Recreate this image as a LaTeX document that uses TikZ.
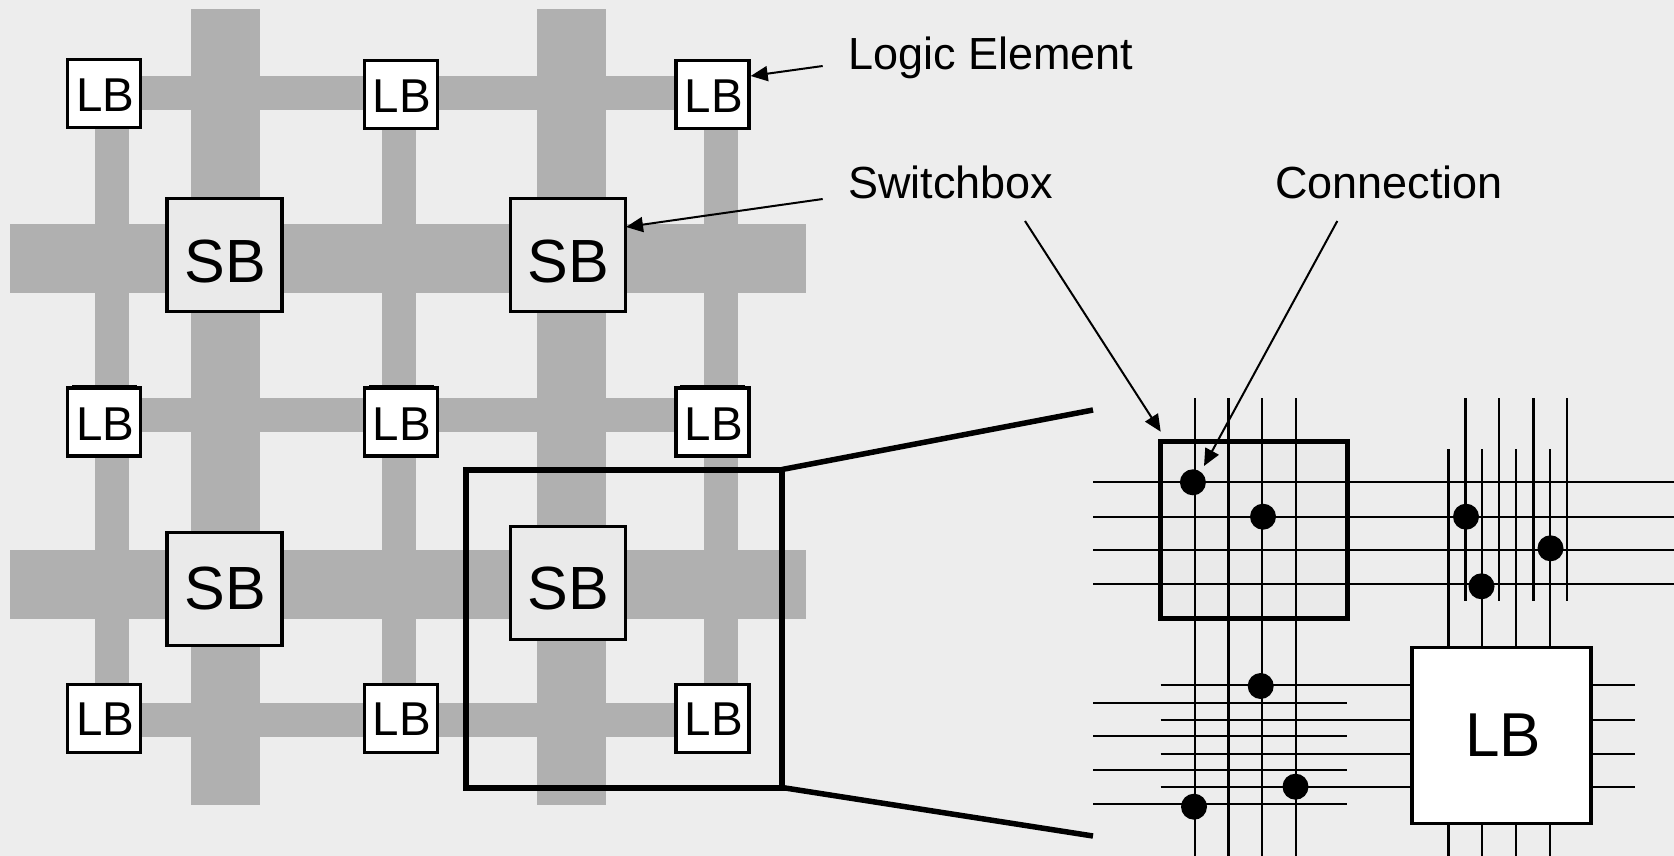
\documentclass[tikz,border=0pt]{standalone}
\usepackage{fontspec}
\setmainfont{Liberation Sans}
\usetikzlibrary{arrows.meta}
\definecolor{bgc}{HTML}{EDEDED}
\definecolor{bar}{HTML}{B0B0B0}
\definecolor{sbfill}{HTML}{EAEAEA}
\tikzset{
  x=1pt,y=-1pt,
  barfill/.style={fill=bar,draw=none},
  lbbox/.style={draw=black,line width=3.5pt,fill=white,rectangle,minimum width=73pt,minimum height=68pt,inner sep=0pt,outer sep=0pt},
  sbbox/.style={draw=black,line width=3.3pt,fill=sbfill,rectangle,minimum width=115pt,minimum height=113pt,inner sep=0pt,outer sep=0pt},
  lbtext/.style={font=\fontsize{47.5}{48}\selectfont,anchor=base,inner sep=0pt},
  sbtext/.style={font=\fontsize{61}{61}\selectfont,anchor=base,inner sep=0pt},
  label/.style={font=\fontsize{45}{45}\selectfont,anchor=base west,inner sep=0pt,text=black},
  wire/.style={draw=black,line width=2.3pt},
  pointer/.style={draw=black,line width=2pt,-{Triangle[length=17pt,width=15pt]}},
  zoomline/.style={draw=black,line width=5.5pt},
  dot/.style={fill=black,draw=none},
}
\begin{document}
\begin{tikzpicture}
\path[use as bounding box,fill=bgc] (0,0) rectangle (1674,856);
% thin channels
\foreach \yy in {76,398,703} \fill[barfill] (100,\yy) rectangle (720,\yy+34);
\foreach \xx in {95,382,704} \fill[barfill] (\xx,90) rectangle (\xx+34,710);
% thick channels
\foreach \xx in {191,537} \fill[barfill] (\xx,9) rectangle (\xx+69,805);
\foreach \yy in {224,550} \fill[barfill] (10,\yy) rectangle (806,\yy+68.5);
% small logic blocks
\foreach \nm/\xx/\yy in {a/104/93.5,b/401/94.5,c/712.5/94.5,d/104/422,e/401/422,f/712.5/422,g/104/718.5,h/401/718.5,i/712.5/718.5}{
  \node[lbbox] (lb\nm) at (\xx,\yy) {};
}
\draw[line width=2pt] (72,385.5) -- (137,385.5) (369,385.5) -- (434,385.5) (680,385.5) -- (745,385.5);
\foreach \nm/\xx/\yy in {a/105.5/112,b/402/112.5,c/714/112.5,d/105.5/440,e/402/440,f/714/440,g/105.5/735,h/402/735,i/714/735}{
  \node[lbtext] (lbt\nm) at (\xx,\yy) {LB};
}
% switchboxes
\foreach \nm/\xx/\yy in {a/224.5/255,b/568/255,c/224.5/589,d/568/583}{
  \node[sbbox] (sb\nm) at (\xx,\yy) {};
}
\foreach \nm/\xx/\yy in {a/225/282,b/568/282,c/225/609,d/568/609}{
  \node[sbtext] (sbt\nm) at (\xx,\yy) {SB};
}
% zoom frame
\node[draw=black,line width=6pt,rectangle,inner sep=0pt,outer sep=0pt,minimum width=316pt,minimum height=318pt,fill=none] (frame) at (624,628.5) {};
\coordinate (zt) at (1093,410);
\coordinate (zb) at (1093,836);
\draw[zoomline] (frame.north east) -- (zt);
\draw[zoomline] (frame.south east) -- (zb);
% detail wires
\node[fill=sbfill,draw=none,rectangle,inner sep=0pt,outer sep=0pt,minimum width=187pt,minimum height=177pt] (detsbfill) at (1254,530) {};
\foreach \xx in {1194.8,1228.5,1262.2,1296.3} \draw[wire] (\xx,398) -- (\xx,856);
\foreach \yy in {482.3,516.7,550.3,583.7} \draw[wire] (1093,\yy) -- (1674,\yy);
\foreach \xx in {1465.6,1499.3,1533.4,1566.8} \draw[wire] (\xx,398) -- (\xx,600.7);
\foreach \xx in {1448.6,1482.3,1516,1549.7} \draw[wire] (\xx,449) -- (\xx,856);
\foreach \yy in {685.3,719.7,753.7,787.3} \draw[wire] (1160.7,\yy) -- (1634.5,\yy);
\foreach \yy in {703,736.3,770.3,804.3} \draw[wire] (1093,\yy) -- (1347,\yy);
\node[draw=black,line width=4.5pt,rectangle,inner sep=0pt,outer sep=0pt,minimum width=187pt,minimum height=177pt] (detsb) at (1254,530) {};
\node[draw=black,line width=3.5pt,fill=white,rectangle,inner sep=0pt,outer sep=0pt,minimum width=179pt,minimum height=176pt] (detlb) at (1501.5,735.5) {};
\node[font=\fontsize{62}{62}\selectfont,anchor=base,inner sep=0pt] (detlbt) at (1503,756.7) {LB};
\foreach \xx/\yy in {1192.9/482.3,1263/516.7,1466/516.7,1550.5/548.3,1481.5/586.3,1260.7/686,1295.5/786.7,1194/806.7}
  \fill[dot] (\xx,\yy) circle[radius=13pt];
% labels
\node[label] (lle) at (848,70) {Logic Element};
\node[label] (lsw) at (848,198) {Switchbox};
\node[label] (lco) at (1275,198) {Connection};
% pointers
\coordinate (p1s) at (822.7,66);  \coordinate (p1e) at (750.7,76);
\coordinate (p2s) at (822.7,199); \coordinate (p2e) at (626,227);
\coordinate (p3s) at (1025,221);  \coordinate (p3e) at (1160.7,431.7);
\coordinate (p4s) at (1337.3,221);\coordinate (p4e) at (1204,466);
\draw[pointer] (p1s) -- (p1e);
\draw[pointer] (p2s) -- (p2e);
\draw[pointer] (p3s) -- (p3e);
\draw[pointer] (p4s) -- (p4e);
\end{tikzpicture}
\end{document}
